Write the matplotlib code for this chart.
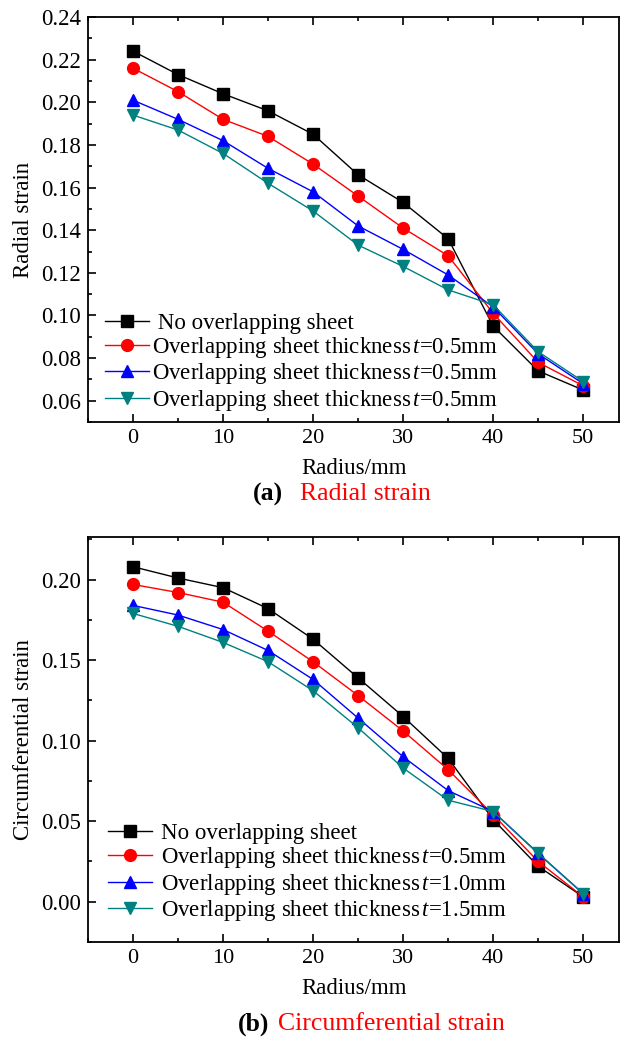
import matplotlib

matplotlib.use("Agg")
import matplotlib.pyplot as plt
from matplotlib.ticker import MultipleLocator

plt.rcParams["font.family"] = ["Liberation Serif", "DejaVu Serif"]
plt.rcParams["mathtext.fontset"] = "custom"
plt.rcParams["mathtext.rm"] = "Liberation Serif"
plt.rcParams["mathtext.it"] = "Liberation Serif:italic"

radius = [0, 5, 10, 15, 20, 25, 30, 35, 40, 45, 50]

# (a) radial strain
radial_none = [0.224, 0.213, 0.204, 0.196, 0.185, 0.166, 0.153, 0.136, 0.095, 0.074, 0.065]
radial_t05 = [0.216, 0.205, 0.192, 0.184, 0.171, 0.156, 0.141, 0.128, 0.101, 0.078, 0.067]
radial_t10 = [0.201, 0.192, 0.182, 0.169, 0.158, 0.142, 0.131, 0.119, 0.104, 0.082, 0.068]
radial_t15 = [0.194, 0.187, 0.176, 0.162, 0.149, 0.133, 0.123, 0.112, 0.105, 0.083, 0.069]
radial_labels = [
    " No overlapping sheet",
    r"Overlapping sheet thickness$\,\mathit{t}$=0.5mm",
    r"Overlapping sheet thickness$\,\mathit{t}$=0.5mm",
    r"Overlapping sheet thickness$\,\mathit{t}$=0.5mm",
]

# (b) circumferential strain
circ_none = [0.208, 0.201, 0.195, 0.182, 0.163, 0.139, 0.115, 0.089, 0.051, 0.022, 0.003]
circ_t05 = [0.197, 0.192, 0.186, 0.168, 0.149, 0.128, 0.106, 0.082, 0.054, 0.025, 0.003]
circ_t10 = [0.184, 0.178, 0.169, 0.156, 0.138, 0.114, 0.090, 0.069, 0.056, 0.030, 0.005]
circ_t15 = [0.179, 0.171, 0.161, 0.149, 0.131, 0.108, 0.083, 0.063, 0.056, 0.030, 0.005]
circ_labels = [
    "No overlapping sheet",
    r"Overlapping sheet thickness$\,\mathit{t}$=0.5mm",
    r"Overlapping sheet thickness$\,\mathit{t}$=1.0mm",
    r"Overlapping sheet thickness$\,\mathit{t}$=1.5mm",
]

styles = [
    dict(color="black", marker="s"),
    dict(color="#ff0000", marker="o"),
    dict(color="#0000ff", marker="^"),
    dict(color="#008080", marker="v"),
]


def draw(ax, series, labels, ylabel, ylim, ymajor, yminor, leg_anchor, textpad):
    for ys, lab, st in zip(series, labels, styles):
        ax.plot(radius, ys, lw=1.0, ms=8.5, label=lab, **st)
    ax.set_xlim(-5, 54)
    ax.set_ylim(*ylim)
    ax.xaxis.set_major_locator(MultipleLocator(10))
    ax.xaxis.set_minor_locator(MultipleLocator(5))
    ax.yaxis.set_major_locator(MultipleLocator(ymajor))
    ax.yaxis.set_minor_locator(MultipleLocator(yminor))
    ax.yaxis.set_major_formatter("{x:.2f}")
    ax.tick_params(which="both", direction="in", top=True, right=False, width=1.2)
    ax.tick_params(axis="y", labelsize=16.5)
    ax.tick_params(axis="x", labelsize=16)
    ax.tick_params(which="major", length=6, pad=5)
    ax.tick_params(which="minor", length=3)
    for sp in ax.spines.values():
        sp.set_linewidth(1.3)
    ax.set_xlabel("Radius/mm", fontsize=16.5, labelpad=7)
    ax.set_ylabel(ylabel, fontsize=16.5, labelpad=5)
    ax.legend(loc="upper left", bbox_to_anchor=leg_anchor, frameon=False, fontsize=16.5,
              handlelength=1.9, handletextpad=textpad, labelspacing=0.06,
              borderpad=0, borderaxespad=0)


fig = plt.figure(figsize=(6.22, 10.39), dpi=100)
ax1 = fig.add_axes([0.1415, 0.5938, 0.854, 0.3898])
ax2 = fig.add_axes([0.1415, 0.0934, 0.854, 0.3898])

draw(ax1, [radial_none, radial_t05, radial_t10, radial_t15], radial_labels,
     "Radial strain", (0.05, 0.24), 0.02, 0.01, (0.032, 0.27), 0.15)
draw(ax2, [circ_none, circ_t05, circ_t10, circ_t15], circ_labels,
     "Circumferential strain", (-0.025, 0.2265), 0.05, 0.025, (0.038, 0.294), 0.4)

fig.text(253 / 622, 1 - 494 / 1039, "(a)", fontsize=18.5, fontweight="bold", va="center")
fig.text(300 / 622, 1 - 494 / 1039, "Radial strain", fontsize=18.5, color="#ff0000", va="center")
fig.text(238 / 622, 1 - 1024 / 1039, "(b)", fontsize=18.5, fontweight="bold", va="center")
fig.text(278 / 622, 1 - 1024 / 1039, "Circumferential strain", fontsize=18.5, color="#ff0000", va="center")

fig.savefig("out.png", dpi=100)
